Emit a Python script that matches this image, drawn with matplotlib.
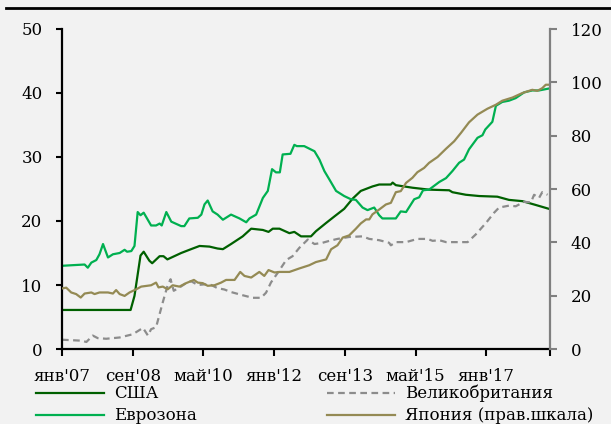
import matplotlib
matplotlib.use('Agg')
import matplotlib.pyplot as plt
from matplotlib.lines import Line2D

# months counted from Jan 2007 (0) to Aug 2018 (~138)
us_x = [0, 19.4, 20.5, 22.2, 23.1, 24.7, 25.5, 27.6, 28.7, 29.8, 33.7, 36.5, 38.9, 41.7,
        44.0, 45.5, 47.8, 51.1, 53.5, 56.8, 58.4, 59.6, 61.5, 64.3, 65.7, 67.6, 70.4,
        71.8, 74.7, 77.0, 79.8, 82.2, 84.5, 87.8, 89.7, 93.0, 93.5, 94.4, 99.1, 103.8,
        109.5, 110.4, 114.2, 118.0, 123.1, 126.4, 130.2, 134.0, 137.7]
us_y = [6.1, 6.1, 8.3, 14.6, 15.2, 13.8, 13.4, 14.5, 14.5, 14.0, 15.0, 15.6, 16.1, 16.0,
        15.7, 15.6, 16.4, 17.6, 18.8, 18.6, 18.3, 18.8, 18.8, 18.1, 18.3, 17.6, 17.6,
        18.4, 19.7, 20.7, 21.9, 23.5, 24.7, 25.4, 25.7, 25.7, 26.0, 25.6, 25.2, 24.9,
        24.8, 24.5, 24.1, 23.9, 23.8, 23.3, 23.1, 22.5, 21.9]

ez_x = [0, 3.1, 6.4, 7.3, 8.3, 9.7, 10.6, 11.6, 13.0, 14.4, 16.3, 17.7, 18.4, 19.6,
        20.5, 21.4, 22.2, 23.1, 25.2, 26.6, 27.6, 28.2, 29.5, 30.9, 33.7, 34.6, 36.0,
        38.4, 39.4, 40.3, 41.2, 42.6, 44.0, 45.5, 47.8, 50.2, 52.1, 53.0, 54.9, 56.8,
        58.2, 59.4, 60.5, 61.6, 62.4, 64.6, 65.7, 66.4, 68.5, 71.4, 72.8, 74.2, 75.6,
        77.5, 79.8, 81.7, 83.1, 85.0, 86.4, 87.8, 88.3, 89.7, 90.6, 94.4, 95.8, 97.3,
        99.6, 101.0, 102.1, 103.8, 106.7, 108.6, 110.4, 112.3, 113.7, 115.1, 117.5,
        118.9, 119.7, 121.7, 122.7, 124.5, 126.4, 128.3, 130.7, 133.0, 134.9, 137.7]
ez_y = [13.0, 13.1, 13.2, 12.7, 13.5, 13.9, 14.8, 16.4, 14.3, 14.8, 15.0, 15.5, 15.2, 15.3,
        16.1, 21.4, 20.9, 21.3, 19.3, 19.3, 19.6, 19.3, 21.4, 19.9, 19.2, 19.2, 20.4,
        20.5, 21.0, 22.6, 23.2, 21.5, 21.0, 20.2, 21.0, 20.4, 19.8, 20.4, 21.0, 23.6,
        24.7, 28.1, 27.6, 27.6, 30.4, 30.5, 31.9, 31.7, 31.7, 30.9, 29.6, 27.8, 26.5,
        24.7, 23.9, 23.4, 23.3, 22.1, 21.7, 22.0, 22.1, 20.9, 20.4, 20.4, 21.5, 21.4,
        23.4, 23.7, 24.8, 24.9, 26.1, 26.7, 27.8, 29.1, 29.6, 31.2, 33.0,
        33.4, 34.3, 35.5, 38.0, 38.6, 38.8, 39.2, 40.1, 40.4, 40.4, 40.7]

uk_x = [0, 5.5, 6.9, 8.7, 10.1, 12.5, 16.3, 20.0, 22.9, 24.3, 25.2, 26.6, 28.5, 29.9,
        30.7, 31.6, 33.2, 35.1, 36.5, 38.4, 40.3, 42.2, 44.0, 45.9, 47.8, 51.1, 53.9,
        56.3, 57.7, 59.1, 61.0, 63.4, 65.2, 67.1, 69.5, 71.4, 73.7, 75.6, 77.9, 81.2,
        85.0, 86.9, 89.7, 92.5, 93.0, 94.4, 97.3, 100.5, 103.4, 104.8, 106.7, 108.6,
        114.7, 117.0, 119.9, 122.2, 123.6, 126.4, 128.3, 130.7, 132.6, 133.5, 134.9,
        135.8, 137.3]
uk_y = [1.45, 1.3, 1.1, 2.1, 1.7, 1.6, 1.8, 2.3, 3.3, 2.1, 3.1, 3.4, 7.3, 10.0,
        10.9, 9.1, 9.6, 10.3, 10.6, 10.0, 10.1, 10.0, 9.5, 9.3, 8.9, 8.4, 8.0,
        8.0, 8.8, 10.4, 11.9, 13.9, 14.5, 15.8, 17.1, 16.4, 16.6, 16.9, 17.2, 17.5,
        17.6, 17.2, 17.0, 16.6, 16.2, 16.7, 16.7, 17.2, 17.2, 16.9, 17.0, 16.7,
        16.7, 17.9, 19.7, 21.3, 22.1, 22.4, 22.3, 23.0, 22.9, 24.1, 23.6,
        24.5, 24.1]

jp_x = [0, 1.2, 2.6, 4.0, 5.3, 6.4, 8.3, 9.2, 10.6, 13.0, 14.4, 15.3, 16.3, 17.7, 19.1,
        21.0, 22.4, 25.2, 26.6, 27.3, 28.5, 29.9, 31.3, 33.2, 35.1, 37.3, 38.4, 39.8,
        41.2, 43.1, 45.0, 46.4, 48.8, 50.4, 51.6, 53.5, 55.8, 57.2, 58.4, 60.1, 61.5,
        64.3, 67.1, 69.9, 71.8, 74.7, 76.1, 77.9, 79.4, 81.2, 83.1, 84.5, 86.0, 86.9,
        87.8, 89.7, 91.6, 93.0, 94.4, 95.8, 97.3, 99.1, 100.5, 102.4, 103.8, 106.2,
        108.6, 110.9, 112.8, 115.1, 117.5, 120.3, 122.7, 124.5, 127.4, 130.2, 133.0,
        134.4, 135.8, 136.8, 137.7]
jp_y = [22.7, 23.0, 21.2, 20.6, 19.3, 20.8, 21.2, 20.6, 21.2, 21.2, 20.8, 22.1, 20.6, 19.9,
        21.2, 22.4, 23.4, 23.9, 24.9, 23.1, 23.4, 22.4, 23.9, 23.4, 24.7, 25.9, 24.9, 24.7,
        23.7, 23.9, 24.9, 25.9, 25.9, 28.9, 27.4, 26.8, 28.9, 27.4, 29.6, 28.7, 28.9,
        28.9, 30.2, 31.4, 32.6, 33.6, 37.4, 38.9, 41.8, 42.6, 45.1, 47.1, 48.6, 48.6,
        50.5, 52.3, 54.2, 54.8, 58.8, 59.2, 62.3, 64.2, 66.3, 67.9, 69.8, 72.0,
        75.1, 77.9, 81.0, 85.0, 87.9, 90.1, 91.6, 93.1, 94.3, 96.0, 97.2,
        96.8, 97.8, 99.1, 99.1]

tick_pos = [0, 20, 40, 60, 80, 100, 120, 138]
tick_lbl = ["янв'07", "сен'08", "май'10", "янв'12", "сен'13", "май'15", "янв'17", ""]

plt.rcParams['font.family'] = ['DejaVu Serif']
plt.rcParams['font.size'] = 12

bg = '#f2f2f2'
fig = plt.figure(figsize=(6.11, 4.24), dpi=100, facecolor=bg)
ax = fig.add_axes([62/611, 1-349/424, (550-62)/611, (349-29)/424])
ax.set_facecolor(bg)
ax2 = ax.twinx()

l_us, = ax.plot(us_x, us_y, color='#006000', lw=1.6)
l_ez, = ax.plot(ez_x, ez_y, color='#00b050', lw=1.6)
l_uk, = ax.plot(uk_x, uk_y, color='#8c8c8c', lw=1.6, ls=(0, (3, 2)))
l_jp, = ax2.plot(jp_x, jp_y, color='#948a54', lw=1.6)

ax.set_xlim(0, 138)
ax.set_ylim(0, 50)
ax2.set_ylim(0, 120)
ax.set_yticks([0, 10, 20, 30, 40, 50])
ax2.set_yticks([0, 20, 40, 60, 80, 100, 120])
ax.set_xticks(tick_pos)
ax.set_xticklabels(tick_lbl)

for a in (ax, ax2):
    for s in a.spines.values():
        s.set_visible(False)
ax.spines['left'].set_visible(True)
ax.spines['bottom'].set_visible(True)
ax.spines['left'].set_linewidth(1.6)
ax.spines['bottom'].set_linewidth(1.6)
ax2.spines['right'].set_visible(True)
ax2.spines['right'].set_color('#808080')
ax2.spines['right'].set_linewidth(1.6)

ax.tick_params(axis='y', direction='out', length=4, width=1.5, pad=10)
ax.tick_params(axis='x', direction='out', length=5, width=1.5, pad=9)
ax2.tick_params(axis='y', direction='out', length=5, width=1.5, color='#808080', pad=10)

fig.add_artist(Line2D([6/611, 1], [1-8/424, 1-8/424], color='black', lw=2))

fig.legend([l_us, l_ez, l_uk, l_jp],
           ['США', 'Еврозона', 'Великобритания', 'Япония (прав.шкала)'],
           loc='upper left', bbox_to_anchor=(36/611, 1-385/424), ncol=2, frameon=False,
           handlelength=4.1, handletextpad=0.6, columnspacing=7.8, labelspacing=0.3,
           borderpad=0, borderaxespad=0)

fig.savefig('out.png', dpi=100, facecolor=bg)
